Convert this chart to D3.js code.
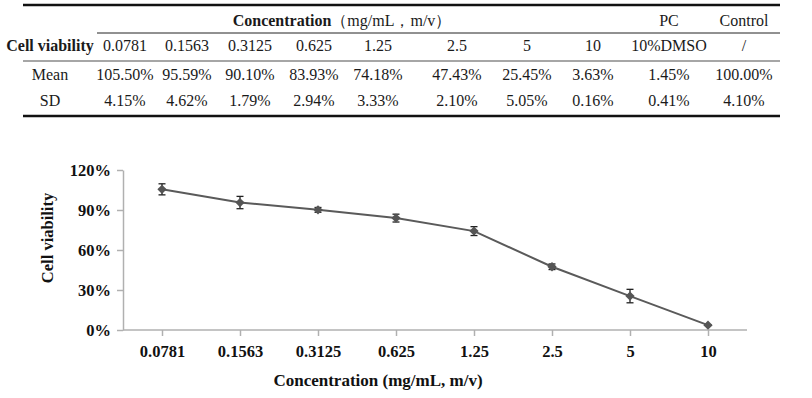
<!DOCTYPE html>
<html>
<head>
<meta charset="UTF-8">
<title>Cell viability</title>
<script src="https://cdn.jsdelivr.net/npm/d3@7/dist/d3.min.js"></script>
<style>
	body { margin: 0; background: #fff; }
	svg text { font-family: "Liberation Serif", "Times New Roman", Times, "DejaVu Serif", "Noto Serif", serif !important; }
</style>
</head>
<body>
<svg id="chart" width="812" height="398" font-family="Liberation Serif, Times New Roman, DejaVu Serif, serif"></svg>
<script>
// data
var concentrations = ["0.0781", "0.1563", "0.3125", "0.625", "1.25", "2.5", "5", "10"];
var means = [105.50, 95.59, 90.10, 83.93, 74.18, 47.43, 25.45, 3.63];
var sds = [4.15, 4.62, 1.79, 2.94, 3.33, 2.10, 5.05, 0.16];
var pcLabel = "10%DMSO";
var pcMean = 1.45, pcSd = 0.41;
var controlLabel = "/";
var controlMean = 100.00, controlSd = 4.10;
var yTicks = [0, 30, 60, 90, 120];

var svg = d3.select("#chart");
var pct = function (v) { return v.toFixed(2) + "%"; };

// ---- table ----
var colX = [125, 187, 250, 314, 378, 457, 527, 593, 669, 744];
var rowY = { head: 26, conc: 51, mean: 80, sd: 106 };
var tbl = svg.append("g").attr("fill", "#1a1a1a").style("font-size", "16px");

tbl.append("line").attr("x1", 23).attr("x2", 780).attr("y1", 5).attr("y2", 5)
	.attr("stroke", "#111").attr("stroke-width", 2.5);
tbl.append("line").attr("x1", 97).attr("x2", 780).attr("y1", 33).attr("y2", 33)
	.attr("stroke", "#222").attr("stroke-width", 1);
tbl.append("line").attr("x1", 23).attr("x2", 780).attr("y1", 61).attr("y2", 61)
	.attr("stroke", "#888").attr("stroke-width", 1.5);
tbl.append("line").attr("x1", 23).attr("x2", 780).attr("y1", 116).attr("y2", 116)
	.attr("stroke", "#111").attr("stroke-width", 2.5);

var head = tbl.append("text").attr("x", 342).attr("y", rowY.head).attr("text-anchor", "middle");
head.append("tspan").attr("font-weight", "bold").text("Concentration");
head.append("tspan").text("（mg/mL，m/v）");
tbl.append("text").attr("x", colX[8]).attr("y", rowY.head).attr("text-anchor", "middle").text("PC");
tbl.append("text").attr("x", colX[9]).attr("y", rowY.head).attr("text-anchor", "middle").text("Control");

tbl.append("text").attr("x", 50).attr("y", rowY.conc).attr("text-anchor", "middle")
	.attr("font-weight", "bold").text("Cell viability");
tbl.append("text").attr("x", 50).attr("y", rowY.mean).attr("text-anchor", "middle").text("Mean");
tbl.append("text").attr("x", 50).attr("y", rowY.sd).attr("text-anchor", "middle").text("SD");

var rows = [
	{ y: rowY.conc, vals: concentrations.concat([pcLabel, controlLabel]) },
	{ y: rowY.mean, vals: means.map(pct).concat([pct(pcMean), pct(controlMean)]) },
	{ y: rowY.sd, vals: sds.map(pct).concat([pct(pcSd), pct(controlSd)]) }
];
rows.forEach(function (r) {
	tbl.selectAll(null).data(r.vals).enter().append("text")
		.attr("x", function (d, i) { return colX[i]; })
		.attr("y", r.y)
		.attr("text-anchor", "middle")
		.text(function (d) { return d; });
});

// ---- chart ----
var m = { left: 123, right: 747, top: 170, bottom: 330 };
var x = d3.scalePoint().domain(concentrations).range([m.left, m.right]).padding(0.5);
var y = d3.scaleLinear().domain([0, 120]).range([m.bottom, m.top]);

var g = svg.append("g");

var xAxis = g.append("g").attr("transform", "translate(0," + m.bottom + ")")
	.call(d3.axisBottom(x).tickSizeInner(6).tickSizeOuter(0).tickPadding(9));
var yAxis = g.append("g").attr("transform", "translate(" + m.left + ",0)")
	.call(d3.axisLeft(y).tickValues(yTicks).tickFormat(function (d) { return d + "%"; })
		.tickSizeInner(6).tickSizeOuter(0).tickPadding(6));

[xAxis, yAxis].forEach(function (a) {
	a.attr("font-family", null);
	a.select(".domain").attr("stroke", "#b0b0b0").attr("stroke-width", 1.5);
	a.selectAll(".tick line").attr("stroke", "#b0b0b0").attr("stroke-width", 1.5);
	a.selectAll(".tick text").attr("fill", "#111").style("font-size", "16.5px")
		.style("font-weight", "bold");
});
xAxis.select(".domain").attr("d", "M" + m.left + ",0H" + m.right);

g.append("text").attr("x", 378).attr("y", 386).attr("text-anchor", "middle")
	.attr("font-weight", "bold").style("font-size", "17px").attr("fill", "#111")
	.text("Concentration (mg/mL, m/v)");
g.append("text").attr("transform", "translate(53,238) rotate(-90)")
	.attr("text-anchor", "middle").attr("font-weight", "bold").style("font-size", "16.5px")
	.attr("fill", "#111").text("Cell viability");

var pts = concentrations.map(function (c, i) { return { c: c, v: means[i], sd: sds[i] }; });

g.append("path").datum(pts)
	.attr("fill", "none").attr("stroke", "#5a5a5a").attr("stroke-width", 2)
	.attr("d", d3.line().x(function (d) { return x(d.c); }).y(function (d) { return y(d.v); }));

var eb = g.selectAll(".err").data(pts).enter().append("g").attr("class", "err")
	.attr("stroke", "#222").attr("stroke-width", 1.3);
eb.append("line")
	.attr("x1", function (d) { return x(d.c); }).attr("x2", function (d) { return x(d.c); })
	.attr("y1", function (d) { return y(d.v + d.sd); }).attr("y2", function (d) { return y(d.v - d.sd); });
eb.append("line")
	.attr("x1", function (d) { return x(d.c) - 3.5; }).attr("x2", function (d) { return x(d.c) + 3.5; })
	.attr("y1", function (d) { return y(d.v + d.sd); }).attr("y2", function (d) { return y(d.v + d.sd); });
eb.append("line")
	.attr("x1", function (d) { return x(d.c) - 3.5; }).attr("x2", function (d) { return x(d.c) + 3.5; })
	.attr("y1", function (d) { return y(d.v - d.sd); }).attr("y2", function (d) { return y(d.v - d.sd); });

g.selectAll(".pt").data(pts).enter().append("path").attr("class", "pt")
	.attr("transform", function (d) { return "translate(" + x(d.c) + "," + y(d.v) + ")"; })
	.attr("d", d3.symbol().type(d3.symbolDiamond2).size(55))
	.attr("fill", "#555");
</script>
</body>
</html>
